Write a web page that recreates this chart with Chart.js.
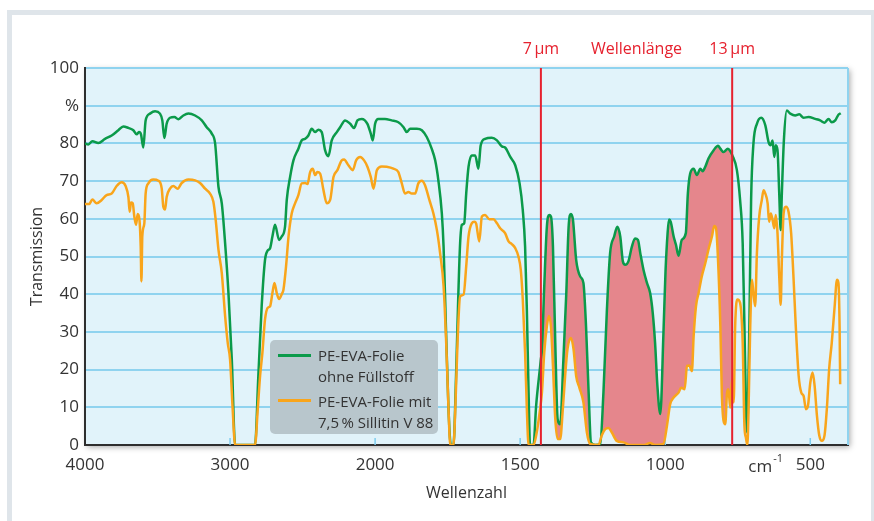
<!DOCTYPE html>
<html lang="de">
<head>
  <meta charset="UTF-8">
  <title>Transmission PE-EVA-Folie</title>
  <script src="https://cdn.jsdelivr.net/npm/chart.js@4.4.1/dist/chart.umd.min.js"></script>
  <style>
    body { margin: 0; background: #fff; font-family: "Open Sans", sans-serif; }
    #frame {
      position: absolute; left: 7px; top: 10px; width: 869px; height: 600px;
      box-sizing: border-box; border: 5px solid #dfe5ea;
    }
    #wrap { position: absolute; left: 0; top: 0; width: 874px; height: 521px; }
    #legend {
      position: absolute; left: 270px; top: 340px; width: 168px; height: 94px;
      background: #b8c6cc; border-radius: 5px; color: #333;
      font-size: 15px; line-height: 21px;
    }
    #legend .swatch { position: absolute; left: 8px; width: 33px; height: 2.5px; }
    #legend .txt { position: absolute; left: 48px; white-space: nowrap; }
  </style>
</head>
<body>
  <div id="frame"></div>
  <div id="wrap">
    <canvas id="ir-chart" width="874" height="521"></canvas>
    <div id="legend">
      <div class="swatch" style="top:14px; background:#0b9a4a;"></div>
      <div class="txt" style="top:5px;">PE-EVA-Folie<br>ohne Füllstoff</div>
      <div class="swatch" style="top:59px; background:#f9a51b;"></div>
      <div class="txt" style="top:51px;">PE-EVA-Folie mit<br>7,5&#8201;% Sillitin V 88</div>
    </div>
  </div>

  <script>
    // Wellenzahl (cm-1) und Transmission (%)
    var greenWn = [4000, 3977, 3949, 3908, 3862, 3816, 3770, 3736, 3701, 3667, 3644, 3628, 3614, 3598, 3582, 3552, 3517, 3483, 3467, 3453,
      3437, 3414, 3384, 3356, 3322, 3287, 3241, 3195, 3161, 3126, 3103, 3080, 3057, 3034, 3011, 2988, 2965, 2828, 2805, 2782,
      2759, 2740, 2724, 2708, 2690, 2662, 2644, 2621, 2609, 2586, 2563, 2529, 2506, 2483, 2460, 2437, 2414, 2391, 2368, 2345,
      2322, 2299, 2264, 2241, 2207, 2172, 2145, 2122, 2092, 2053, 2030, 2016, 2000, 1989, 1966, 1943, 1920, 1902, 1891, 1879,
      1856, 1839, 1822, 1805, 1793, 1782, 1770, 1764, 1756, 1747, 1739, 1730, 1721, 1713, 1707, 1701, 1693, 1686, 1678, 1667,
      1655, 1644, 1636, 1621, 1598, 1580, 1563, 1552, 1534, 1517, 1502, 1491, 1483, 1477, 1471, 1466, 1454, 1445, 1431, 1429,
      1425, 1417, 1408, 1400, 1394, 1387, 1379, 1371, 1362, 1351, 1341, 1333, 1325, 1318, 1307, 1293, 1282, 1273, 1264, 1256,
      1241, 1224, 1213, 1201, 1190, 1176, 1165, 1155, 1146, 1138, 1127, 1115, 1104, 1094, 1086, 1075, 1063, 1052, 1043, 1035,
      1027, 1017, 1006, 999, 992, 987, 981, 971, 963, 954, 943, 929, 922, 914, 902, 891, 879, 871, 862, 851,
      833, 818, 810, 799, 784, 776, 769, 753, 742, 733, 727, 722, 718, 715, 710, 704, 696, 684, 669, 655,
      644, 637, 630, 624, 619, 613, 607, 602, 598, 591, 581, 569, 552, 538, 523, 506, 483, 466, 451, 437,
      426, 414, 403, 395];
    var greenT = [80, 79.7, 80.6, 80.1, 81.2, 82.1, 83.5, 84.5, 84.1, 83.5, 82.4, 83, 82.4, 78.9, 86.1, 87.9, 88.5, 87.9, 86.1, 81.4,
      85.2, 86.8, 87, 86.4, 87.4, 87.9, 87.4, 86.1, 84.3, 82.6, 80, 68.5, 64.1, 53.5, 40.3, 22.7, 0, 0, 18.3, 36.8,
      49.1, 51.6, 52.2, 55.3, 58.4, 54.4, 55.3, 57.9, 65, 71.1, 75.5, 78.6, 80.8, 81.2, 82.1, 83.9, 83, 83.6, 83, 78.2,
      76.6, 80.8, 83, 84.3, 86.1, 85.2, 84.1, 86.1, 86.5, 85.2, 82.6, 80.8, 85.2, 86.5, 86.5, 86.1, 85.6, 84.3, 83, 83.9,
      83.9, 83.5, 81.7, 78.6, 75.5, 70.2, 61.4, 52.6, 31.5, 9.5, 0, 0, 18.3, 40.3, 53.5, 58.4, 58.8, 66.7, 73.8, 76.8,
      76.8, 73.3, 79.5, 81.2, 81.5, 80.8, 79.2, 78.9, 76.4, 74.2, 69.4, 62.3, 52.6, 35.9, 13.9, 0, 0, 10.4, 21, 22.5,
      25.4, 42.1, 57.9, 61, 60.6, 52.6, 27.1, 6.9, 5.5, 22.7, 40.3, 57.9, 61.3, 59.7, 49.1, 44.7, 43, 31.5, 13.9, 0.7,
      0, 0.3, 13.9, 35.9, 50.9, 55.3, 57.9, 55.3, 48.7, 47.8, 48.7, 52.6, 54.8, 54.4, 50.9, 46.5, 43, 40.3, 35, 27.1,
      15.7, 8.2, 30, 46, 56, 59.8, 59.2, 55.3, 53.1, 50.2, 54.4, 56.2, 66.7, 72, 73.3, 71.6, 73.3, 72.6, 73.8, 76,
      78.2, 79.4, 78.6, 77.7, 78.6, 78, 76.9, 72.9, 65, 53.5, 31.5, 11.3, 3.3, 9.5, 31.5, 65, 79.9, 85.2, 86.8, 84.8,
      80.4, 79.5, 80.8, 76.4, 79.5, 78.2, 66.7, 57, 66.7, 80.8, 88.7, 87.9, 87.4, 87.7, 86.8, 87, 86.5, 86.1, 85.5, 86.5,
      85.6, 86.1, 87.6, 88];

    var orangeWn = [4000, 3972, 3949, 3920, 3885, 3851, 3816, 3782, 3747, 3720, 3701, 3692, 3683, 3671, 3660, 3648, 3637, 3625, 3616, 3611,
      3605, 3591, 3582, 3563, 3529, 3494, 3471, 3460, 3448, 3437, 3414, 3391, 3361, 3333, 3287, 3241, 3207, 3172, 3138, 3115,
      3099, 3080, 3057, 3034, 3016, 3000, 2982, 2965, 2828, 2809, 2793, 2777, 2759, 2740, 2724, 2708, 2694, 2678, 2662, 2644,
      2632, 2614, 2597, 2575, 2552, 2529, 2506, 2483, 2466, 2448, 2430, 2414, 2398, 2379, 2356, 2333, 2310, 2287, 2260, 2230,
      2214, 2184, 2154, 2131, 2103, 2076, 2053, 2030, 2011, 1994, 1977, 1960, 1937, 1920, 1908, 1897, 1885, 1874, 1862, 1851,
      1839, 1828, 1813, 1799, 1787, 1776, 1764, 1755, 1747, 1741, 1730, 1724, 1716, 1707, 1695, 1686, 1678, 1667, 1658, 1652,
      1641, 1632, 1621, 1606, 1592, 1580, 1569, 1552, 1540, 1529, 1517, 1506, 1498, 1491, 1483, 1477, 1471, 1454, 1443, 1433,
      1425, 1417, 1408, 1401, 1394, 1387, 1379, 1371, 1362, 1353, 1345, 1337, 1325, 1316, 1307, 1296, 1282, 1270, 1259, 1230,
      1219, 1207, 1196, 1184, 1167, 1144, 1121, 1075, 1052, 1035, 1006, 994, 983, 971, 954, 945, 933, 925, 917, 908,
      902, 894, 885, 874, 862, 851, 839, 831, 825, 818, 810, 805, 799, 793, 787, 782, 776, 770, 764, 759,
      751, 742, 733, 727, 722, 717, 713, 707, 701, 696, 690, 684, 676, 667, 661, 655, 647, 642, 636, 630,
      624, 619, 613, 607, 602, 598, 592, 584, 575, 566, 558, 550, 540, 531, 523, 515, 508, 500, 492, 485,
      477, 469, 460, 451, 443, 435, 426, 416, 408, 403, 399, 397];
    var orangeT = [63.9, 63.9, 65.1, 64.1, 65, 66.3, 66.7, 68.7, 69.7, 68.7, 65.8, 61.9, 64.3, 64.1, 60.6, 58.4, 61.3, 59.9, 52.6, 43.4,
      55.3, 58.8, 66.7, 69.4, 70.4, 70.1, 68, 63.2, 62.5, 65.8, 68, 68.7, 68, 69.5, 70.4, 70.2, 69.5, 68, 66.7, 64.5,
      59.7, 51.8, 45.6, 34.2, 27.1, 22.7, 9.5, 0, 0, 9.5, 18.3, 24.5, 33.3, 36.4, 36.8, 40.3, 43, 40.3, 38.7, 40,
      41.2, 47.4, 55.3, 61.4, 64.1, 66.3, 69.4, 69.5, 69.2, 72.4, 73.3, 71.6, 72.4, 72, 67.6, 64.1, 65, 71.1, 72.9, 75.5,
      75.7, 74.2, 72.9, 75.5, 76.4, 75.5, 73.8, 71.1, 68, 72.9, 73.9, 73.8, 73.3, 72.4, 69.4, 66.7, 67.1, 66.7, 66.7, 69.4,
      70.1, 68.9, 65, 61.4, 57, 50.9, 42.1, 27.1, 9.5, 0, 0, 8.6, 27.1, 39.4, 39.9, 47.4, 55.3, 58.8, 59.2, 58.8,
      54, 60.6, 61, 59.9, 59.9, 58.8, 57.5, 56.2, 54, 53.3, 52.2, 50, 46.5, 38.6, 24.5, 9.5, 0, 0, 3.3, 8.6,
      13.9, 24.5, 31.5, 34.2, 31.5, 21, 6.9, 1.6, 1.6, 9.5, 18.3, 25.4, 28.4, 25.4, 18.3, 15.2, 11.3, 3.3, 0.3, 0,
      2.5, 4.2, 4.5, 3.3, 1.1, 0.7, 0, 0, 0.5, 0, 0.3, 5.1, 10.8, 12.6, 13.9, 15.2, 14.8, 21, 21.1, 19.6,
      28.9, 36.8, 40.3, 44.7, 48.2, 51.8, 55.3, 58.1, 57.5, 49.1, 31.5, 13.9, 6.4, 5.5, 13.9, 14.8, 9.9, 17.4, 11.3, 31.5,
      38.6, 37.7, 27.1, 5.1, 2, 0, 8.6, 31.5, 43.8, 40.3, 36.8, 50.9, 60.6, 65, 67.6, 66.7, 64.1, 59.2, 61.4, 59.7,
      57.5, 61, 56.2, 44.7, 37.2, 49.1, 61.4, 63.2, 61.9, 56.2, 44.7, 31.5, 18.3, 13.9, 13, 9.5, 10.4, 16.5, 19.2, 15.7,
      7.7, 2.5, 1.1, 2.5, 9.5, 20.1, 27.1, 36.8, 43.8, 43, 31.5, 16.1];

    var xTicks = [4000, 3000, 2000, 1500, 1000, 500];
    var bandFrom = 1429;   // 7 µm
    var bandTo = 769;      // 13 µm

    // Skala: unter 2000 cm-1 doppelt gedehnt
    class WaveScale extends Chart.LinearScale {
      toU(v) { return v >= 2000 ? v : 2 * v - 2000; }
      getPixelForValue(value) {
        var a = this.toU(this.min), b = this.toU(this.max);
        return this.getPixelForDecimal((this.toU(value) - a) / (b - a));
      }
      getValueForPixel(pixel) {
        var a = this.toU(this.min), b = this.toU(this.max);
        var u = a + this.getDecimalForPixel(pixel) * (b - a);
        return u >= 2000 ? u : (u + 2000) / 2;
      }
    }
    WaveScale.id = 'wave';
    WaveScale.defaults = Chart.LinearScale.defaults;
    Chart.register(WaveScale);

    function toPoints(xs, ys) {
      return xs.map(function (x, i) { return { x: x, y: ys[i] }; });
    }
    var greenPts = toPoints(greenWn, greenT);
    var orangePts = toPoints(orangeWn, orangeT);
    var bandPts = greenPts.filter(function (p) { return p.x <= bandFrom && p.x >= bandTo; });

    var RED = '#e6212e';

    var decorations = {
      id: 'decorations',
      beforeDraw: function (chart) {
        var ctx = chart.ctx, a = chart.chartArea;
        ctx.save();
        ctx.shadowColor = 'rgba(0,0,0,0.35)';
        ctx.shadowBlur = 6;
        ctx.shadowOffsetX = 2;
        ctx.shadowOffsetY = 2;
        ctx.fillStyle = '#e1f3fa';
        ctx.fillRect(a.left, a.top, a.right - a.left, a.bottom - a.top);
        ctx.restore();
      },
      beforeDatasetsDraw: function (chart) {
        var ctx = chart.ctx, a = chart.chartArea, xs = chart.scales.x;
        ctx.save();
        ctx.strokeStyle = '#8fd3ef';
        ctx.lineWidth = 2;
        ctx.beginPath();
        ctx.moveTo(a.right, a.top);
        ctx.lineTo(a.right, a.bottom);
        ctx.stroke();
        // kleine Markierungen innen
        ctx.strokeStyle = '#7fcdee';
        ctx.lineWidth = 1.5;
        xTicks.forEach(function (v) {
          if (v === 4000) return;
          var px = xs.getPixelForValue(v);
          ctx.beginPath();
          ctx.moveTo(px, a.bottom - 7);
          ctx.lineTo(px, a.bottom);
          ctx.stroke();
        });
        ctx.restore();
      },
      afterDatasetsDraw: function (chart) {
        var ctx = chart.ctx, a = chart.chartArea, xs = chart.scales.x;
        var p1 = xs.getPixelForValue(10000 / 7), p2 = xs.getPixelForValue(10000 / 13);
        ctx.save();
        ctx.strokeStyle = RED;
        ctx.lineWidth = 2;
        [p1, p2].forEach(function (px) {
          ctx.beginPath();
          ctx.moveTo(px, a.top);
          ctx.lineTo(px, a.bottom);
          ctx.stroke();
        });
        ctx.fillStyle = RED;
        ctx.font = '16px "Open Sans"';
        ctx.textAlign = 'center';
        ctx.textBaseline = 'middle';
        ctx.fillText('7\u2009µm', p1, 49);
        ctx.fillText('Wellenlänge', (p1 + p2) / 2, 49);
        ctx.fillText('13\u2009µm', p2, 49);
        // Einheit an der x-Achse
        var pc = xs.getPixelForValue(652);
        ctx.fillStyle = '#333';
        ctx.font = '17px "Open Sans"';
        ctx.textAlign = 'right';
        ctx.fillText('cm', pc + 6, a.bottom + 22);
        ctx.font = '11px "Open Sans"';
        ctx.textAlign = 'left';
        ctx.fillText('-1', pc + 7, a.bottom + 14);
        ctx.restore();
      }
    };

    new Chart(document.getElementById('ir-chart'), {
      type: 'line',
      data: {
        datasets: [{
          label: 'PE-EVA-Folie ohne Füllstoff',
          data: greenPts,
          borderColor: '#0b9a4a',
          borderWidth: 2.5,
          pointRadius: 0,
          cubicInterpolationMode: 'monotone',
          fill: false,
          order: 1
        }, {
          label: 'PE-EVA-Folie mit 7,5 % Sillitin V 88',
          data: orangePts,
          borderColor: '#f9a51b',
          borderWidth: 2.5,
          pointRadius: 0,
          cubicInterpolationMode: 'monotone',
          fill: false,
          order: 0
        }, {
          label: 'Differenz',
          data: bandPts,
          borderWidth: 0,
          borderColor: 'rgba(0,0,0,0)',
          backgroundColor: '#e5868c',
          pointRadius: 0,
          cubicInterpolationMode: 'monotone',
          fill: 1,
          order: 2
        }]
      },
      options: {
        responsive: false,
        animation: false,
        devicePixelRatio: 1,
        layout: { padding: { left: 0, right: 26, top: 68, bottom: 0 } },
        plugins: {
          legend: { display: false },
          tooltip: { enabled: false }
        },
        scales: {
          x: {
            type: 'wave',
            min: 370,
            max: 4000,
            reverse: true,
            afterBuildTicks: function (s) {
              s.ticks = xTicks.map(function (v) { return { value: v }; });
            },
            afterFit: function (s) { s.height = 76; },
            grid: { display: true, drawOnChartArea: false, drawTicks: false, color: 'rgba(0,0,0,0)' },
            border: { display: true, color: '#2e2e2e', width: 2 },
            ticks: {
              autoSkip: false,
              maxRotation: 0,
              padding: 10,
              color: '#333',
              font: { family: 'Open Sans', size: 17 },
              callback: function (v) { return String(v); }
            },
            title: {
              display: true,
              text: 'Wellenzahl',
              color: '#333',
              font: { family: 'Open Sans', size: 16 },
              padding: { top: 0, bottom: 18 }
            }
          },
          y: {
            min: 0,
            max: 100,
            afterFit: function (s) { s.width = 85; },
            grid: {
              drawTicks: false,
              lineWidth: 2,
              color: function (c) { return c.tick && c.tick.value === 0 ? 'rgba(0,0,0,0)' : '#8fd3ef'; }
            },
            border: { display: true, color: '#2e2e2e', width: 2 },
            ticks: {
              stepSize: 10,
              padding: 6,
              color: '#333',
              font: { family: 'Open Sans', size: 17 },
              callback: function (v) { return v === 90 ? '%' : v; }
            },
            title: {
              display: true,
              text: 'Transmission',
              color: '#333',
              font: { family: 'Open Sans', size: 16 },
              padding: { top: 28, bottom: 0 }
            }
          }
        }
      },
      plugins: [decorations]
    });
  </script>
</body>
</html>
